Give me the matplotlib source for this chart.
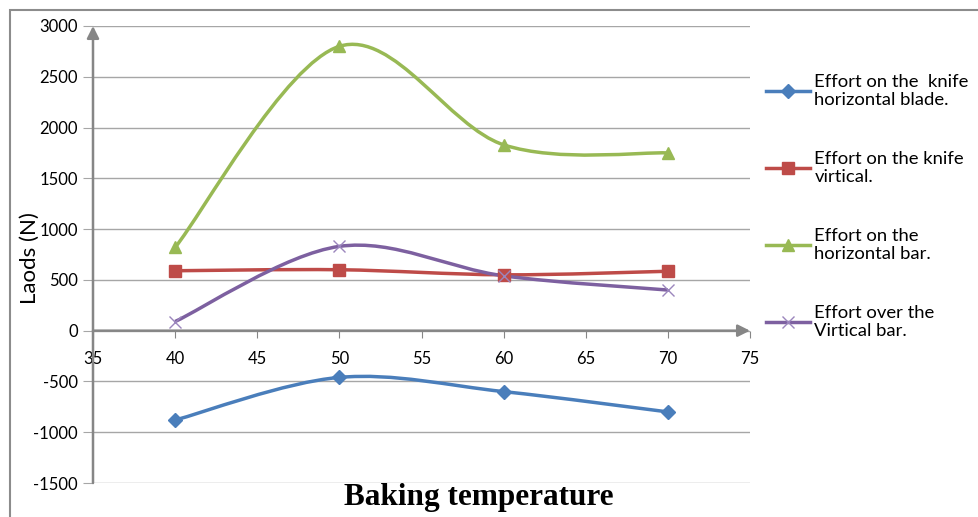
"""
Baking temperature vs loads chart (Excel-style smoothed lines)
"""

import matplotlib
matplotlib.use('Agg')
import matplotlib.pyplot as plt
from matplotlib.path import Path
from matplotlib.patches import PathPatch, Rectangle
from matplotlib.lines import Line2D

plt.rcParams['font.family'] = ['Lato', 'DejaVu Sans']
plt.rcParams['axes.unicode_minus'] = False

# data
temperatures = [40, 50, 60, 70]
knife_horizontal_blade = [-880, -460, -600, -800]
knife_vertical = [590, 600, 550, 585]
horizontal_bar = [820, 2800, 1830, 1750]
vertical_bar = [90, 830, 540, 400]

series_labels = [
    'Effort on the  knife\nhorizontal blade.',
    'Effort on the knife\nvirtical.',
    'Effort on the\nhorizontal bar.',
    'Effort over the\nVirtical bar.',
]

y_ticks = list(range(-1500, 3001, 500))
x_ticks = list(range(35, 76, 5))


def smooth_path(xs, ys):
    """Catmull-Rom style bezier path, like Excel's smoothed line"""
    pts = list(zip(xs, ys))
    n = len(pts)
    verts = [pts[0]]
    codes = [Path.MOVETO]
    for i in range(n - 1):
        p0 = pts[i - 1] if i > 0 else pts[i]
        p1 = pts[i]
        p2 = pts[i + 1]
        p3 = pts[i + 2] if i + 2 < n else pts[i + 1]
        c1 = (p1[0] + (p2[0] - p0[0]) / 6, p1[1] + (p2[1] - p0[1]) / 6)
        c2 = (p2[0] - (p3[0] - p1[0]) / 6, p2[1] - (p3[1] - p1[1]) / 6)
        verts += [c1, c2, p2]
        codes += [Path.CURVE4] * 3
    return Path(verts, codes)


fig = plt.figure(figsize=(9.79, 5.17), dpi=100)
ax = fig.add_axes([93 / 979, 1 - 483 / 517, (750 - 93) / 979, (483 - 26) / 517])

# outer chart border
fig.patches.append(Rectangle((10 / 979, -0.1), 1.2, 1 - 10 / 517 + 0.1, transform=fig.transFigure,
                             fill=False, edgecolor='#8c8c8c', linewidth=1.5))

axis_color = '#868686'
for yv in y_ticks:
    ax.plot([35, 75], [yv, yv], color='#a6a6a6', linewidth=1, zorder=1)

series = [
    (knife_horizontal_blade, '#4a7ebb', 'D', 7, 1),
    (knife_vertical, '#be4b48', 's', 8.5, 1),
    (horizontal_bar, '#98b954', '^', 9, 1),
    (vertical_bar, '#7d60a0', 'x', 9, 1),
]

handles = []
for (vals, color, marker, ms, mew), label in zip(series, series_labels):
    ax.add_patch(PathPatch(smooth_path(temperatures, vals), fill=False,
                           edgecolor=color, linewidth=2.5, zorder=3))
    mcolor = '#9b86bd' if marker == 'x' else color
    ax.plot(temperatures, vals, linestyle='none', marker=marker, markersize=ms,
            color=mcolor, markeredgewidth=mew, zorder=4)
    handles.append(Line2D([], [], color=color, linewidth=2.5, marker=marker,
                          markersize=ms, markerfacecolor=mcolor, markeredgecolor=mcolor,
                          markeredgewidth=mew))

ax.set_xlim(35, 75)
ax.set_ylim(-1500, 3000)
ax.set_xticks(x_ticks)
ax.set_yticks(y_ticks)

for s in ax.spines.values():
    s.set_visible(False)
ax.spines['bottom'].set_position(('data', 0))

ax.tick_params(axis='y', length=7, color='#a6a6a6', labelsize=12, pad=4)
ax.tick_params(axis='x', length=5, color=axis_color, labelsize=12, pad=10, direction='out')

# axis lines with arrowheads
ax.annotate('', xy=(35, 3000), xytext=(35, -1500),
            arrowprops=dict(arrowstyle='-|>', color=axis_color, lw=1.8,
                            mutation_scale=18, shrinkA=0, shrinkB=0), zorder=2)
ax.annotate('', xy=(75, 0), xytext=(35, 0),
            arrowprops=dict(arrowstyle='-|>', color=axis_color, lw=1.8,
                            mutation_scale=18, shrinkA=0, shrinkB=0), zorder=2)

fig.text(30 / 979, 1 - 258 / 517, 'Laods (N)', rotation=90, fontsize=16,
         ha='center', va='center')
fig.text(479 / 979, 1 - 498 / 517, 'Baking temperature', fontsize=22.5,
         fontweight='bold', family='Liberation Serif', ha='center', va='center')

fig.legend(handles=handles, labels=series_labels, loc='upper left',
           bbox_to_anchor=(760 / 979, 1 - 68 / 517), frameon=False, fontsize=13.3,
           handlelength=2.4, handletextpad=0.25, labelspacing=2.3,
           borderaxespad=0, borderpad=0.3)

plt.savefig('out.png', dpi=100)
